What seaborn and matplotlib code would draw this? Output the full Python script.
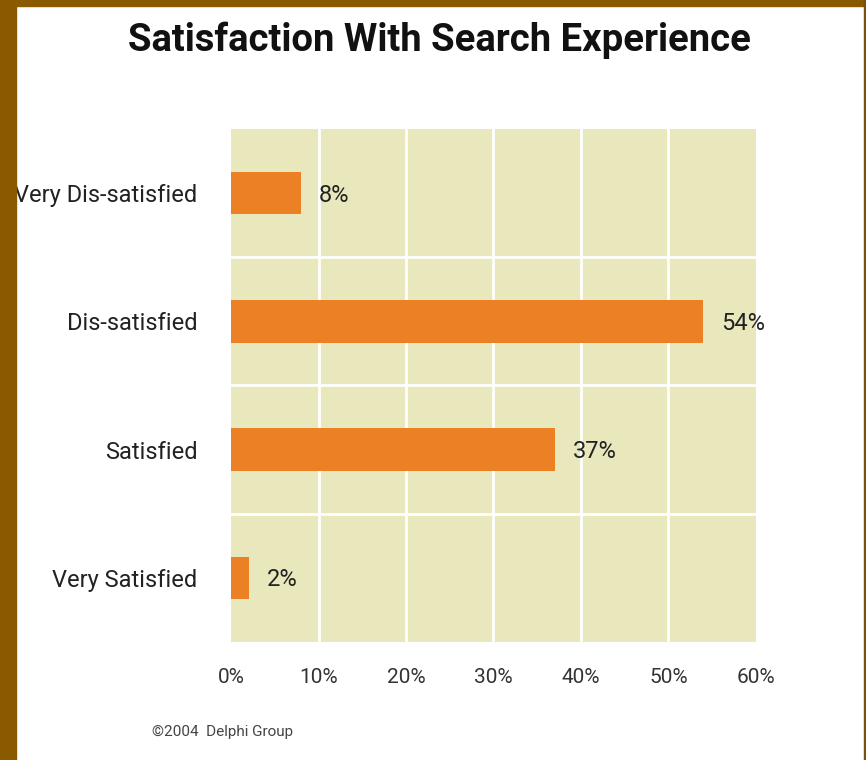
import matplotlib
matplotlib.use("Agg")
import matplotlib.pyplot as plt
import matplotlib.patches as mpatches
import seaborn as sns
import pandas as pd

categories = ["Very Dis-satisfied", "Dis-satisfied", "Satisfied", "Very Satisfied"]
values = [8, 54, 37, 2]
value_labels = ["8%", "54%", "37%", "2%"]
x_ticks = [0, 10, 20, 30, 40, 50, 60]
x_tick_labels = ["0%", "10%", "20%", "30%", "40%", "50%", "60%"]
title = "Satisfaction With Search Experience"
footer = "\u00a92004  Delphi Group"

sns.set_theme(style="white")
plt.rcParams["font.family"] = ["Roboto", "DejaVu Sans"]

df = pd.DataFrame({"category": categories, "value": values})

fig = plt.figure(figsize=(8.66, 7.6), dpi=100)
fig.patch.set_facecolor("white")
# slide frame
fig.patches.append(mpatches.Rectangle((0, 0), 16 / 866, 1, transform=fig.transFigure,
                                      color="#8a5a00", zorder=0))
fig.patches.append(mpatches.Rectangle((0, 1 - 6 / 760), 1, 6 / 760, transform=fig.transFigure,
                                      color="#8a5a00", zorder=0))
fig.patches.append(mpatches.Rectangle((864 / 866, 0), 2 / 866, 1, transform=fig.transFigure,
                                      color="#7a4f10", zorder=0))

ax = fig.add_axes([231 / 866, 118 / 760, 525 / 866, 513 / 760])
ax.set_facecolor("#e9e8bd")
sns.barplot(data=df, x="value", y="category", color="#ec8025", width=0.33,
            saturation=1, orient="h", ax=ax, zorder=3, linewidth=0)
ax.set_xlim(0, 60)
ax.set_ylim(3.5, -0.5)
for xv in x_ticks[1:-1]:
    ax.axvline(xv, color="white", lw=2, zorder=1)
for yv in [0.5, 1.5, 2.5]:
    ax.axhline(yv, color="white", lw=2, zorder=1)
for i, (v, lab) in enumerate(zip(values, value_labels)):
    ax.annotate(lab, (v, i), xytext=(13, -1.5), textcoords="offset points",
                va="center", ha="left", fontsize=17, color="#222222", zorder=4)

ax.set_xticks(x_ticks)
ax.set_xticklabels(x_tick_labels, fontsize=15, color="#333333")
ax.tick_params(axis="x", length=0, pad=19)
ax.tick_params(axis="y", length=0, pad=24, labelsize=17, labelcolor="#222222")
ax.set_xlabel("")
ax.set_ylabel("")
for s in ax.spines.values():
    s.set_visible(False)

fig.text(439 / 866, 1 - 40 / 760, title, ha="center", va="center",
         fontsize=27.5, fontweight="bold", color="#111111")
fig.text(152 / 866, 1 - 732 / 760, footer, ha="left", va="center",
         fontsize=11, color="#444444")

fig.savefig("out.png", dpi=100)
